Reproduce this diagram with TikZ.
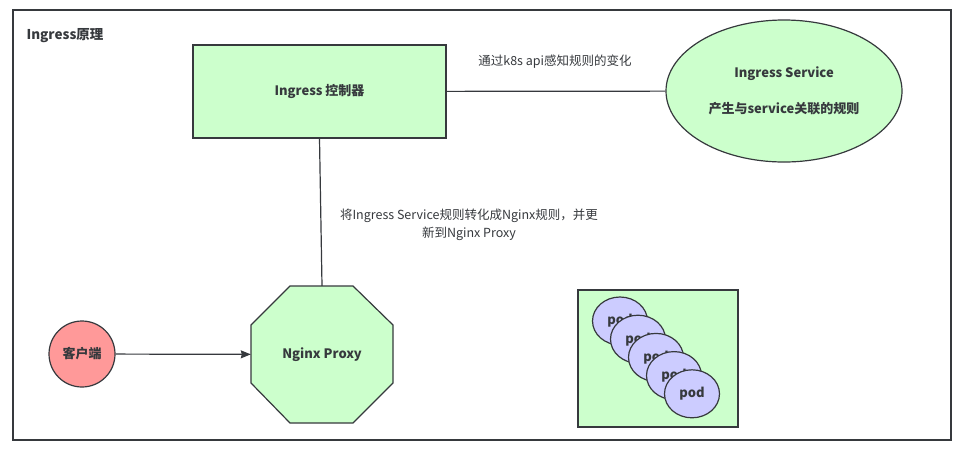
\documentclass[tikz,border=0pt]{standalone}
\usepackage{fontspec}
\setmainfont{Noto Sans CJK SC}
\usepackage{tikz}
\usetikzlibrary{shapes.geometric,arrows.meta}
\definecolor{mint}{HTML}{CCFFCC}
\definecolor{rose}{HTML}{FF9999}
\definecolor{lilac}{HTML}{CCCCFF}
\definecolor{ink}{HTML}{36393D}
\tikzset{
  greenbox/.style={draw=ink, line width=1.2pt, fill=mint, font=\bfseries\fontsize{13}{16}\selectfont, text=ink},
  podnode/.style={draw=ink, line width=1.2pt, fill=lilac, ellipse, minimum width=55pt, minimum height=48pt, inner sep=0pt, font=\bfseries\fontsize{13}{16}\selectfont, text=ink},
  lbl/.style={font=\fontsize{12.5}{18}\selectfont, text=ink, align=center}
}
\begin{document}
\begin{tikzpicture}[x=1pt,y=-1pt]
\useasboundingbox (0,0) rectangle (960,448);
\node[draw=ink, line width=1.2pt, minimum width=938pt, minimum height=430pt, inner sep=0pt] (frame) at (482,225) {};
\node[anchor=west, font=\bfseries\fontsize{13.5}{16}\selectfont, text=ink] (title) at (23,36) {Ingress原理};
\node[greenbox, minimum width=253pt, minimum height=93pt] (ctrl) at (319.5,91.5) {Ingress 控制器};
\node[greenbox, ellipse, minimum width=236pt, minimum height=142pt, align=center, font=\bfseries\fontsize{13}{36}\selectfont] (svc) at (784,91) {Ingress Service\\产生与service关联的规则};
% octagon outline
\draw[ink, line width=1.2pt, fill=mint] (290,286) -- (353,286) -- (393,325) -- (393,383) -- (353,423) -- (290,423) -- (251,383) -- (251,325) -- cycle;
\node[font=\bfseries\fontsize{13}{16}\selectfont, text=ink, minimum width=142pt, minimum height=137pt, inner sep=0pt] (nginx) at (322,354.5) {Nginx Proxy};
\node[greenbox, circle, fill=rose, minimum size=66pt, inner sep=0pt] (client) at (82,354) {客户端};
\node[greenbox, minimum width=160pt, minimum height=137pt] (podbox) at (658,358.5) {};
\foreach \i in {0,...,4}
  \node[podnode] (pod\i) at (620+18*\i,321+18.2*\i) {pod};
\draw[ink, line width=1.2pt] (ctrl) -- (svc);
\draw[ink, line width=1.2pt] (ctrl.south) -- (nginx.north);
\draw[ink, line width=1.2pt, -{Stealth[length=10pt,width=8pt,inset=1pt]}] (client) -- (nginx);
\node[lbl] (watch) at (555,62) {通过k8s api感知规则的变化};
\node[lbl] (convert) at (469,225) {将Ingress Service规则转化成Nginx规则，并更\\新到Nginx Proxy};
\end{tikzpicture}
\end{document}
